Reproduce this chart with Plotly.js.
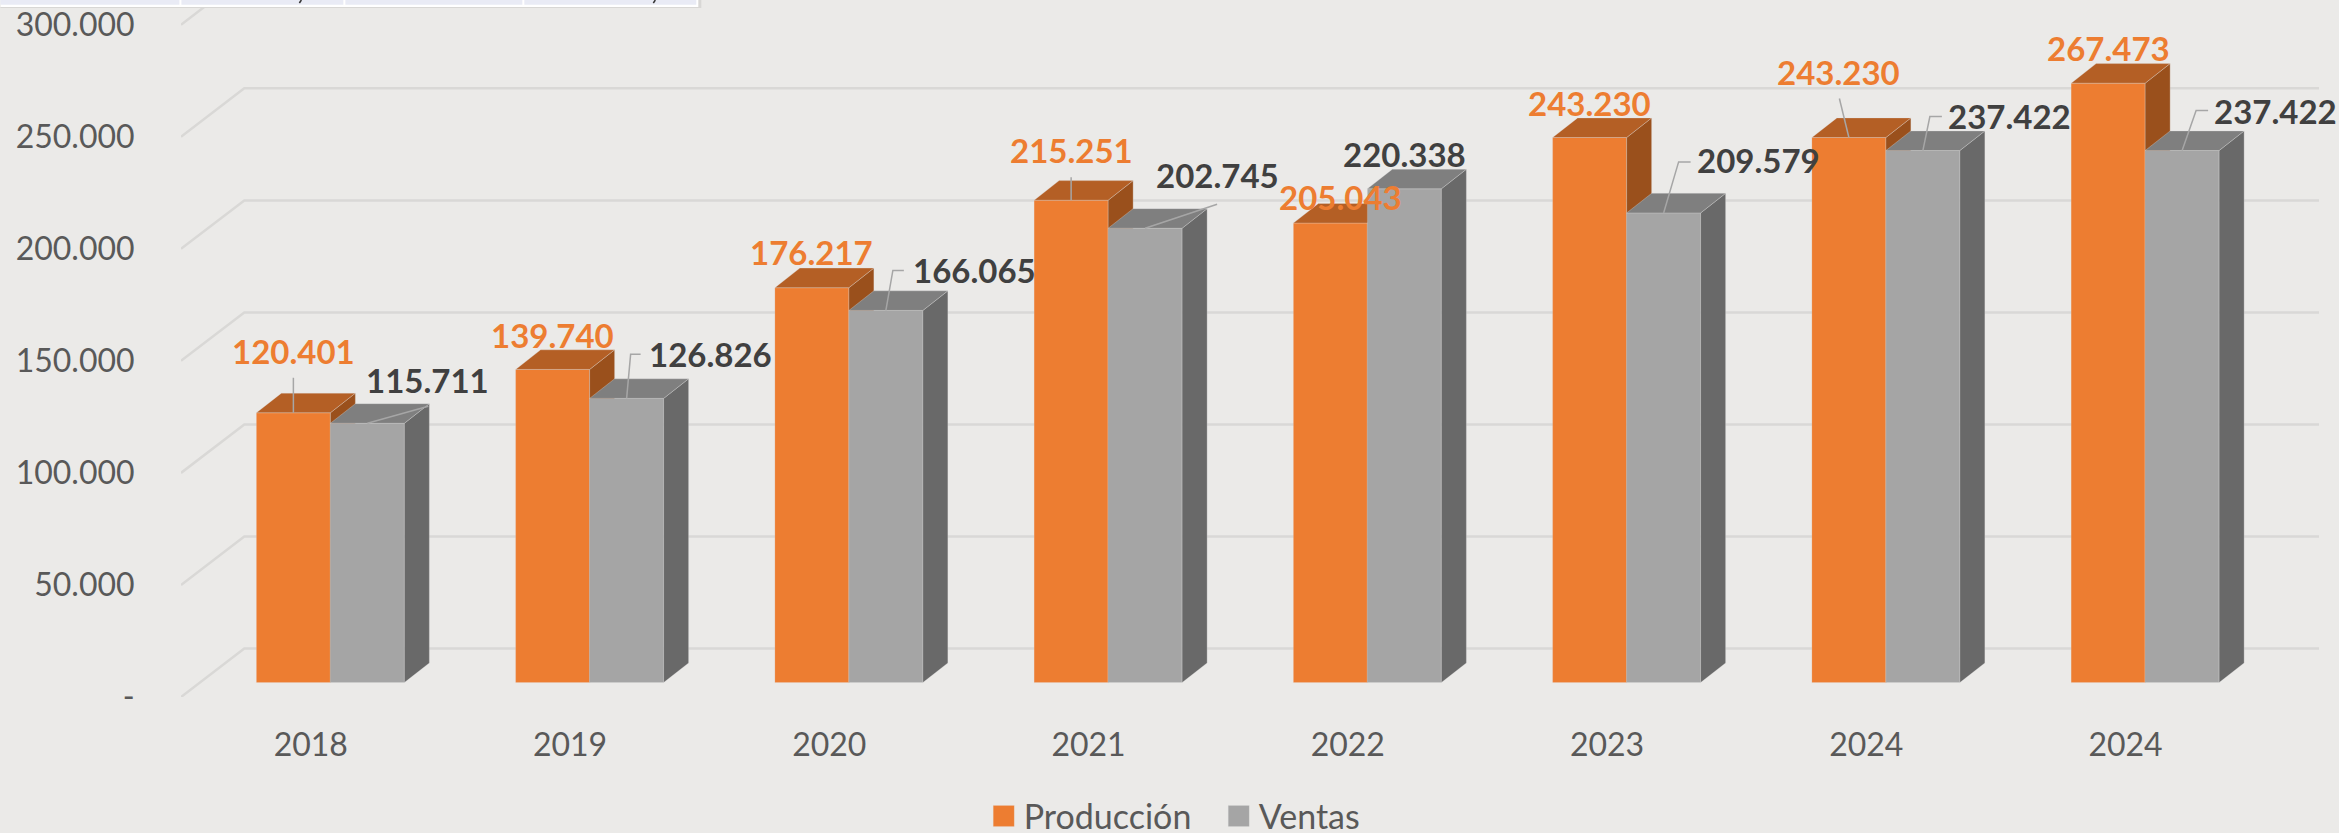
<!DOCTYPE html>
<html>
<head>
<meta charset="utf-8">
<script src="https://cdn.plot.ly/plotly-3.0.1.min.js"></script>
<style>html,body{margin:0;padding:0;background:#EBEAE8;overflow:hidden}</style>
</head>
<body>
<div id="chart" style="width:2339px;height:833px"></div>
<script>
// ---- data ----
const categories = ['2018','2019','2020','2021','2022','2023','2024','2024'];
const produccion = [120401,139740,176217,215251,205043,243230,243230,267473];
const ventas     = [115711,126826,166065,202745,220338,209579,237422,237422];
const valueTicks = [0,50000,100000,150000,200000,250000,300000];
const valueTickText = ['-','50.000','100.000','150.000','200.000','250.000','300.000'];
const produccionLabels = ['120.401','139.740','176.217','215.251','205.043','243.230','243.230','267.473'];
const ventasLabels     = ['115.711','126.826','166.065','202.745','220.338','209.579','237.422','237.422'];

// label placement relative to each bar's top centre, in pixels
const prodLabelDX = [0,0,0,0,10,0,-10,0];
const prodLabelDY = [-62,-34,-36,-50,-26,-35,-66,-35];
const ventLabelDX = [60,84,89,72,0,95,87,93];
const ventLabelDY = [-43,-44,-40,-53,-35,-53,-35,-40];
// leader lines, as bend points relative to the bar's top centre, in pixels
const prodLeaders = [[[0,-35]],null,null,[[0,-23]],null,null,[[-9.5,-39]],null];
const ventLeaders = [[[61,-17]],[[4,-44],[14,-44]],[[7,-40],[18,-40]],[[72,-24]],null,[[15,-51],[27,-51]],[[7,-34],[19,-34]],[[14,-40],[26,-40]]];

// ---- geometry of the pseudo 3D box ----
const LEFT = 180.6, RIGHT = 2319, FLOOR = 696.7, BARBASE = 682.3;
const PITCH = 259.3, KY = 0.00224;
const FIRST_LABEL = 310.4, FIRST_BAR = 330;
const BW = 74/PITCH, BAR_DX = 25/PITCH, BAR_DY = 19.6/KY;
const WALL_DX = 63.3/PITCH, WALL_DY = 48.4/KY;
const span = (RIGHT-LEFT)/PITCH, yTop = FLOOR/KY;
const xIdx = categories.map((_,i)=>i);

const bg = '#EBEAE8', gridC = '#D9D8D6';
const orange = '#ED7D31', orangeTop = '#B45F25', orangeSide = '#9A501C';
const gray = '#A5A5A5', grayTop = '#7F7F7F', graySide = '#696969';
const edge = 'rgba(225,225,225,0.3)', barEdge = 'rgba(225,225,225,0.18)';
const font = 'Lato, "Open Sans", sans-serif';

function faces(vals, x0, part){
  const X=[],Y=[];
  vals.forEach((v,i)=>{
    const l=i+x0, r=l+BW;
    if(part==='top'){
      X.push(l,l+BAR_DX,r+BAR_DX,r,l,null); Y.push(v,v+BAR_DY,v+BAR_DY,v,v,null);
    } else {
      X.push(r,r+BAR_DX,r+BAR_DX,r,r,null); Y.push(0,BAR_DY,v+BAR_DY,v,0,null);
    }
  });
  return {x:X,y:Y};
}
function faceTrace(vals,x0,part,color,xa,ya){
  const f=faces(vals,x0,part);
  return {type:'scatter',mode:'lines',x:f.x,y:f.y,fill:'toself',fillcolor:color,
    line:{color:edge,width:1},xaxis:xa,yaxis:ya,showlegend:false,hoverinfo:'skip'};
}
function leaderTrace(vals,leaders,x0,xa,ya){
  const X=[],Y=[];
  vals.forEach((v,i)=>{
    if(!leaders[i]) return;
    const cx=i+x0+BW/2;
    X.push(cx); Y.push(v);
    leaders[i].forEach(p=>{X.push(cx+p[0]/PITCH); Y.push(v-p[1]/KY);});
    X.push(null); Y.push(null);
  });
  return {type:'scatter',mode:'lines',x:X,y:Y,line:{color:'#A6A6A6',width:1.5},
    xaxis:xa,yaxis:ya,showlegend:false,hoverinfo:'skip',connectgaps:false};
}

// back wall and floor grid
const gridX=[], gridY=[];
const xa0 = -(FIRST_LABEL-LEFT)/PITCH;
valueTicks.forEach(v=>{
  gridX.push(xa0, xa0+WALL_DX, xa0+span, null);
  gridY.push(v, v+WALL_DY, v+WALL_DY, null);
});

const data = [
  {type:'scatter',mode:'lines',x:gridX,y:gridY,line:{color:gridC,width:2.5},xaxis:'x',yaxis:'y',showlegend:false,hoverinfo:'skip'},
  {type:'bar',name:'Producción',x:xIdx,y:produccion,width:BW,offset:-BW,marker:{color:orange,line:{color:barEdge,width:1}},xaxis:'x2',yaxis:'y2'},
  faceTrace(produccion,-BW,'side',orangeSide,'x2','y2'),
  faceTrace(produccion,-BW,'top',orangeTop,'x2','y2'),
  {type:'bar',name:'Ventas',x:xIdx,y:ventas,width:BW,offset:0,marker:{color:gray,line:{color:barEdge,width:1}},xaxis:'x3',yaxis:'y3'},
  faceTrace(ventas,0,'side',graySide,'x3','y3'),
  faceTrace(ventas,0,'top',grayTop,'x3','y3'),
  leaderTrace(produccion,prodLeaders,-BW,'x3','y3'),
  leaderTrace(ventas,ventLeaders,0,'x3','y3')
];

const annotations=[];
function addLabels(vals,texts,x0,dx,dy,color){
  vals.forEach((v,i)=>annotations.push({
    xref:'x3',yref:'y3',x:i+x0+BW/2,y:v,text:texts[i],showarrow:false,
    xanchor:'center',yanchor:'middle',xshift:dx[i],yshift:-dy[i],
    font:{family:font,size:33,color:color,weight:700}
  }));
}
addLabels(produccion,produccionLabels,-BW,prodLabelDX,prodLabelDY,orange);
addLabels(ventas,ventasLabels,0,ventLabelDX,ventLabelDY,'#404040');

// the clipped table strip along the top edge of the picture
const px = x=>(x-LEFT)/(RIGHT-LEFT), py = y=>1-y/FLOOR;
const shapes=[
  {type:'rect',xref:'paper',yref:'paper',x0:px(0),x1:px(701),y0:py(0),y1:py(8),fillcolor:'#D8D7D5',line:{width:0}},
  {type:'rect',xref:'paper',yref:'paper',x0:px(0),x1:px(698),y0:py(0),y1:py(7),fillcolor:'#FFFFFF',line:{width:0}},
];
[[0,179],[181,343],[345,522],[524,696]].forEach(c=>shapes.push(
  {type:'rect',xref:'paper',yref:'paper',x0:px(c[0]),x1:px(c[1]),y0:py(0),y1:py(4.7),fillcolor:'#E9EBF5',line:{width:0}}));
[300,654].forEach(x=>shapes.push(
  {type:'line',xref:'paper',yref:'paper',x0:px(x+1),x1:px(x-1),y0:py(0),y1:py(3),line:{color:'#333333',width:1.5}}));

const hidden = (range,over)=>({visible:false,range:range,overlaying:over,fixedrange:true});
const xr2=[-(FIRST_BAR-LEFT)/PITCH, -(FIRST_BAR-LEFT)/PITCH+span];
const yr2=[-(FLOOR-BARBASE)/KY, BARBASE/KY];

const layout = {
  width:2339,height:833,
  margin:{l:LEFT,r:2339-RIGHT,t:0,b:833-FLOOR,pad:0,autoexpand:false},
  paper_bgcolor:bg,plot_bgcolor:bg,
  barmode:'overlay',
  font:{family:font,color:'#595959'},
  showlegend:true,
  legend:{orientation:'h',x:px(983.5),xanchor:'left',y:py(816),yanchor:'middle',entrywidth:190,entrywidthmode:'pixels',
    font:{family:font,size:34,color:'#595959'},bgcolor:'rgba(0,0,0,0)',itemclick:false,itemdoubleclick:false},
  xaxis:{range:[xa0,xa0+span],tickmode:'array',tickvals:xIdx,ticktext:categories,showgrid:false,zeroline:false,showline:false,
    ticks:'outside',ticklen:20,tickcolor:'rgba(0,0,0,0)',tickfont:{family:font,size:32,color:'#595959'},fixedrange:true},
  yaxis:{range:[0,yTop],tickmode:'array',tickvals:valueTicks,ticktext:valueTickText,showgrid:false,zeroline:false,showline:false,
    ticks:'outside',ticklen:39,tickcolor:'rgba(0,0,0,0)',tickfont:{family:font,size:32,color:'#595959'},fixedrange:true},
  xaxis2:hidden(xr2,'x'),yaxis2:hidden(yr2,'y'),
  xaxis3:hidden(xr2,'x'),yaxis3:hidden(yr2,'y'),
  annotations:annotations,shapes:shapes
};
Plotly.newPlot('chart',data,layout,{displayModeBar:false,staticPlot:true}).then(()=>{
  document.querySelectorAll('.legendpoints path').forEach(p=>p.setAttribute('d','M10.5,10.5H-10.5V-10.5H10.5Z'));
});
</script>
</body>
</html>
